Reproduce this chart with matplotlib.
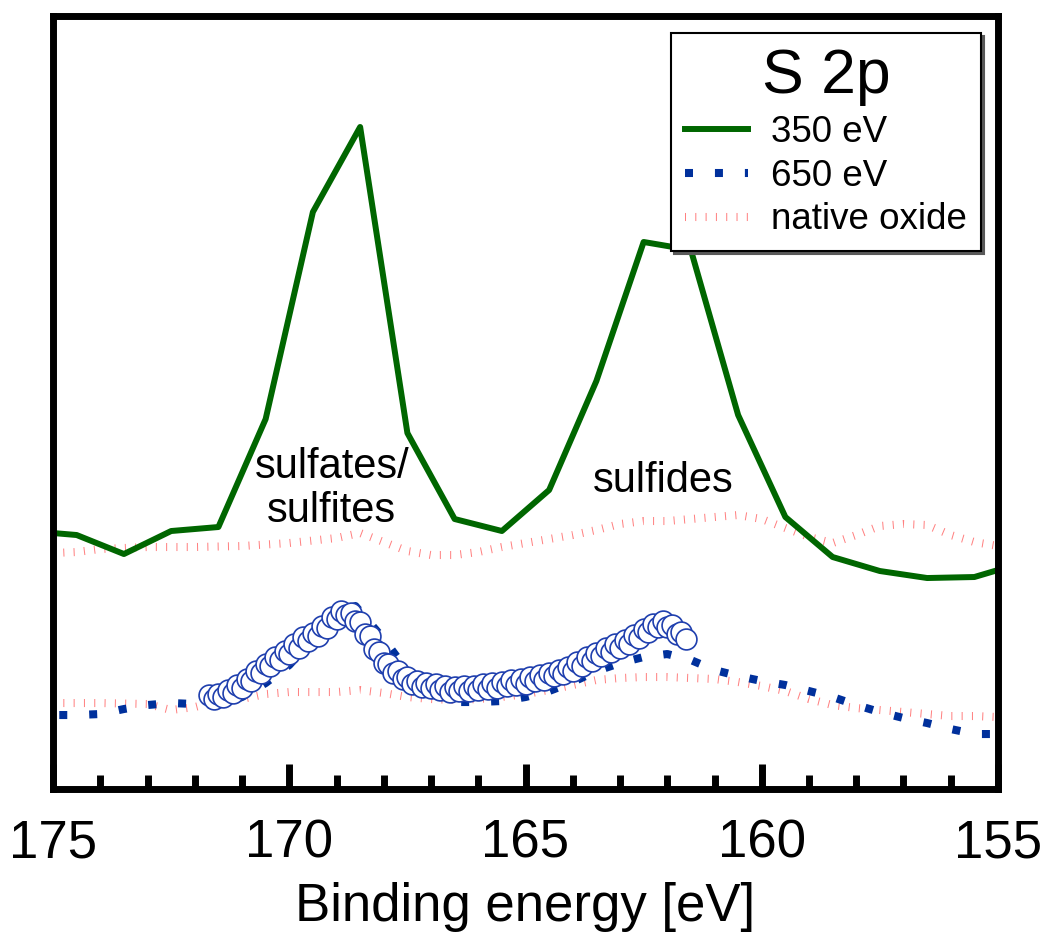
import matplotlib
matplotlib.use('Agg')
import matplotlib.pyplot as plt
from matplotlib.ticker import MultipleLocator

plt.rcParams['font.family'] = ['Liberation Sans', 'DejaVu Sans']
plt.rcParams['lines.scale_dashes'] = False

# ---------------- data (binding energy [eV], intensity [arb. units]) ----------------
green_x = [175.5, 174.5, 173.5, 172.5, 171.5, 170.5, 169.5, 168.5, 167.5, 166.5, 165.5,
           164.5, 163.5, 162.5, 161.5, 160.5, 159.5, 158.5, 157.5, 156.5, 155.5, 154.5]
green_y = [258, 254, 235, 258, 262, 370, 577, 662, 356, 270, 258,
           299, 408, 547, 539, 374, 272, 232, 218, 211, 212, 226]

blue_x = [175.5, 175.0, 174.5, 174.0, 173.5, 173.0, 172.5, 172.0, 171.5, 171.0, 170.5,
          170.0, 169.5, 169.0, 168.6, 168.0, 167.5, 167.0, 166.5, 166.0, 165.5, 165.0,
          164.5, 164.0, 163.5, 163.0, 162.5, 162.0, 161.5, 161.0, 160.5, 160.0, 159.5,
          159.0, 158.5, 158.0, 157.5, 157.0, 156.5, 156.0, 155.5, 155.0, 154.5]
blue_y = [72, 74, 74, 75, 80, 84, 86, 85, 84, 92, 106,
          124, 150, 175, 183, 150, 118, 98, 87, 87, 88, 92,
          98, 107, 118, 126, 132, 135, 129, 119, 113, 108, 104,
          98, 92, 84, 77, 71, 66, 60, 55, 55, 56]

circ_x = [171.7, 171.6, 171.5, 171.4, 171.3, 171.2, 171.1, 171.0, 170.9, 170.8, 170.7,
          170.6, 170.5, 170.4, 170.3, 170.2, 170.1, 170.0, 169.9, 169.8, 169.7, 169.6,
          169.5, 169.4, 169.3, 169.2, 169.1, 169.0, 168.9, 168.8, 168.7, 168.6, 168.5,
          168.4, 168.3, 168.2, 168.1, 168.0, 167.9, 167.8, 167.7, 167.6, 167.5, 167.4,
          167.3, 167.2, 167.1, 167.0, 166.9, 166.8, 166.7, 166.6, 166.5, 166.4, 166.3,
          166.2, 166.1, 166.0, 165.9, 165.8, 165.7, 165.6, 165.5, 165.4, 165.3, 165.2,
          165.1, 165.0, 164.9, 164.8, 164.7, 164.6, 164.5, 164.4, 164.3, 164.2, 164.1,
          164.0, 163.9, 163.8, 163.7, 163.6, 163.5, 163.4, 163.3, 163.2, 163.1, 163.0,
          162.9, 162.8, 162.7, 162.6, 162.5, 162.4, 162.3, 162.2, 162.1, 162.0, 161.9,
          161.8, 161.7, 161.6]
circ_y = [94, 90, 95, 92, 99, 96, 104, 101, 110, 108, 118,
          116, 125, 123, 132, 129, 138, 135, 145, 141, 152, 148,
          156, 153, 163, 161, 172, 170, 178, 174, 176, 168, 167,
          155, 153, 140, 137, 126, 125, 116, 118, 110, 112, 105,
          108, 102, 106, 101, 105, 99, 103, 97, 102, 98, 103,
          98, 103, 99, 105, 100, 106, 101, 107, 103, 109, 104,
          110, 105, 112, 108, 114, 109, 116, 113, 119, 115, 122,
          118, 127, 123, 132, 128, 136, 133, 141, 137, 145, 141,
          149, 145, 154, 151, 160, 157, 165, 162, 168, 162, 164,
          155, 157, 150]

ox_x = [175.0, 174.5, 174.0, 173.0, 172.0, 171.0, 170.0, 169.0, 168.5, 168.0, 167.5,
        167.0, 166.5, 166.0, 165.5, 165.0, 164.5, 164.0, 163.5, 163.0, 162.5, 162.0,
        161.5, 161.0, 160.5, 160.0, 159.5, 159.0, 158.5, 158.0, 157.5, 157.0, 156.5,
        156.0, 155.5, 155.0]
ox_upper = [236, 237, 240, 242, 242, 243, 246, 251, 256, 247, 238,
            234, 234, 237, 242, 246, 250, 254, 259, 265, 268, 268,
            270, 272, 274, 270, 261, 252, 246, 254, 263, 265, 264,
            254, 247, 243]

ox2_x = [175.0, 174.0, 173.0, 172.5, 172.0, 171.5, 171.0, 170.5, 170.0, 169.0, 168.5,
         168.0, 167.5, 167.0, 166.5, 166.0, 165.5, 165.0, 164.5, 164.0, 163.5, 163.0,
         162.5, 162.0, 161.5, 161.0, 160.5, 160.0, 159.5, 159.0, 158.5, 158.0, 157.5,
         157.0, 156.5, 156.0, 155.5, 155.0]
ox_lower = [86, 86, 85, 79, 82, 88, 90, 95, 97, 97, 99,
            96, 92, 90, 89, 90, 92, 95, 99, 104, 109, 111,
            112, 112, 111, 110, 107, 103, 98, 90, 84, 81, 79,
            77, 75, 73, 73, 72]

xticks = [175, 170, 165, 160, 155]
legend_labels = ['350 eV', '650 eV', 'native oxide']

# ---------------- styling ----------------
GREEN = '#006600'
BLUE = '#00309c'
CIRC = '#1f3fae'
PINK = '#ff8080'
ox_style = dict(color=PINK, lw=5.8, ls=(0, (0.72, 6.7)), dash_capstyle='butt')
blue_style = dict(color=BLUE, lw=5.8, ls=(0, (5.76, 15.8)), dash_capstyle='butt')

fig = plt.figure(figsize=(10.46, 9.40), dpi=100)
ax = fig.add_axes([0.0507, 0.1606, 0.9034, 0.8224])

h_ox, = ax.plot(ox_x, ox_upper, zorder=1, **ox_style)
ax.plot(ox2_x, ox_lower, zorder=1, **ox_style)
h_green, = ax.plot(green_x, green_y, color=GREEN, lw=4.3, zorder=2)
h_blue, = ax.plot(blue_x, blue_y, zorder=3, **blue_style)
ax.plot(circ_x, circ_y, 'o', ms=15, mfc='white', mec=CIRC, mew=1.2, zorder=4)

ax.set_xlim(175, 155)
ax.set_ylim(0, 773)
ax.set_xticks(xticks)
ax.xaxis.set_minor_locator(MultipleLocator(1))
ax.tick_params(axis='x', which='major', direction='in', length=18, width=5,
               labelsize=38, pad=21, top=False)
ax.tick_params(axis='x', which='minor', direction='in', length=10, width=5, top=False)
ax.tick_params(axis='y', left=False, labelleft=False)
for s in ax.spines.values():
    s.set_linewidth(5)
ax.set_xlabel('Binding energy [eV]', fontsize=38, labelpad=10)

ax.text(169.10, 267, 'sulfates/\nsulfites', fontsize=30, ha='center', va='baseline',
        linespacing=1.12, zorder=5)
ax.text(162.08, 297, 'sulfides', fontsize=30, ha='center', va='baseline', zorder=5)

leg = ax.legend(handles=[h_green, h_blue, h_ox], labels=legend_labels, title='S 2p',
                title_fontsize=45, fontsize=26.5, loc='upper right',
                bbox_to_anchor=(0.982, 0.978), borderaxespad=0, frameon=True,
                fancybox=False, edgecolor='black', framealpha=1,
                handlelength=1.72, handletextpad=0.62, borderpad=0.38,
                labelspacing=0.24,
                shadow={'facecolor': '0.35', 'edgecolor': '0.35', 'alpha': 1})
leg.get_frame().set_linewidth(1.5)
leg.set_zorder(10)

fig.savefig('out.png', dpi=100)
